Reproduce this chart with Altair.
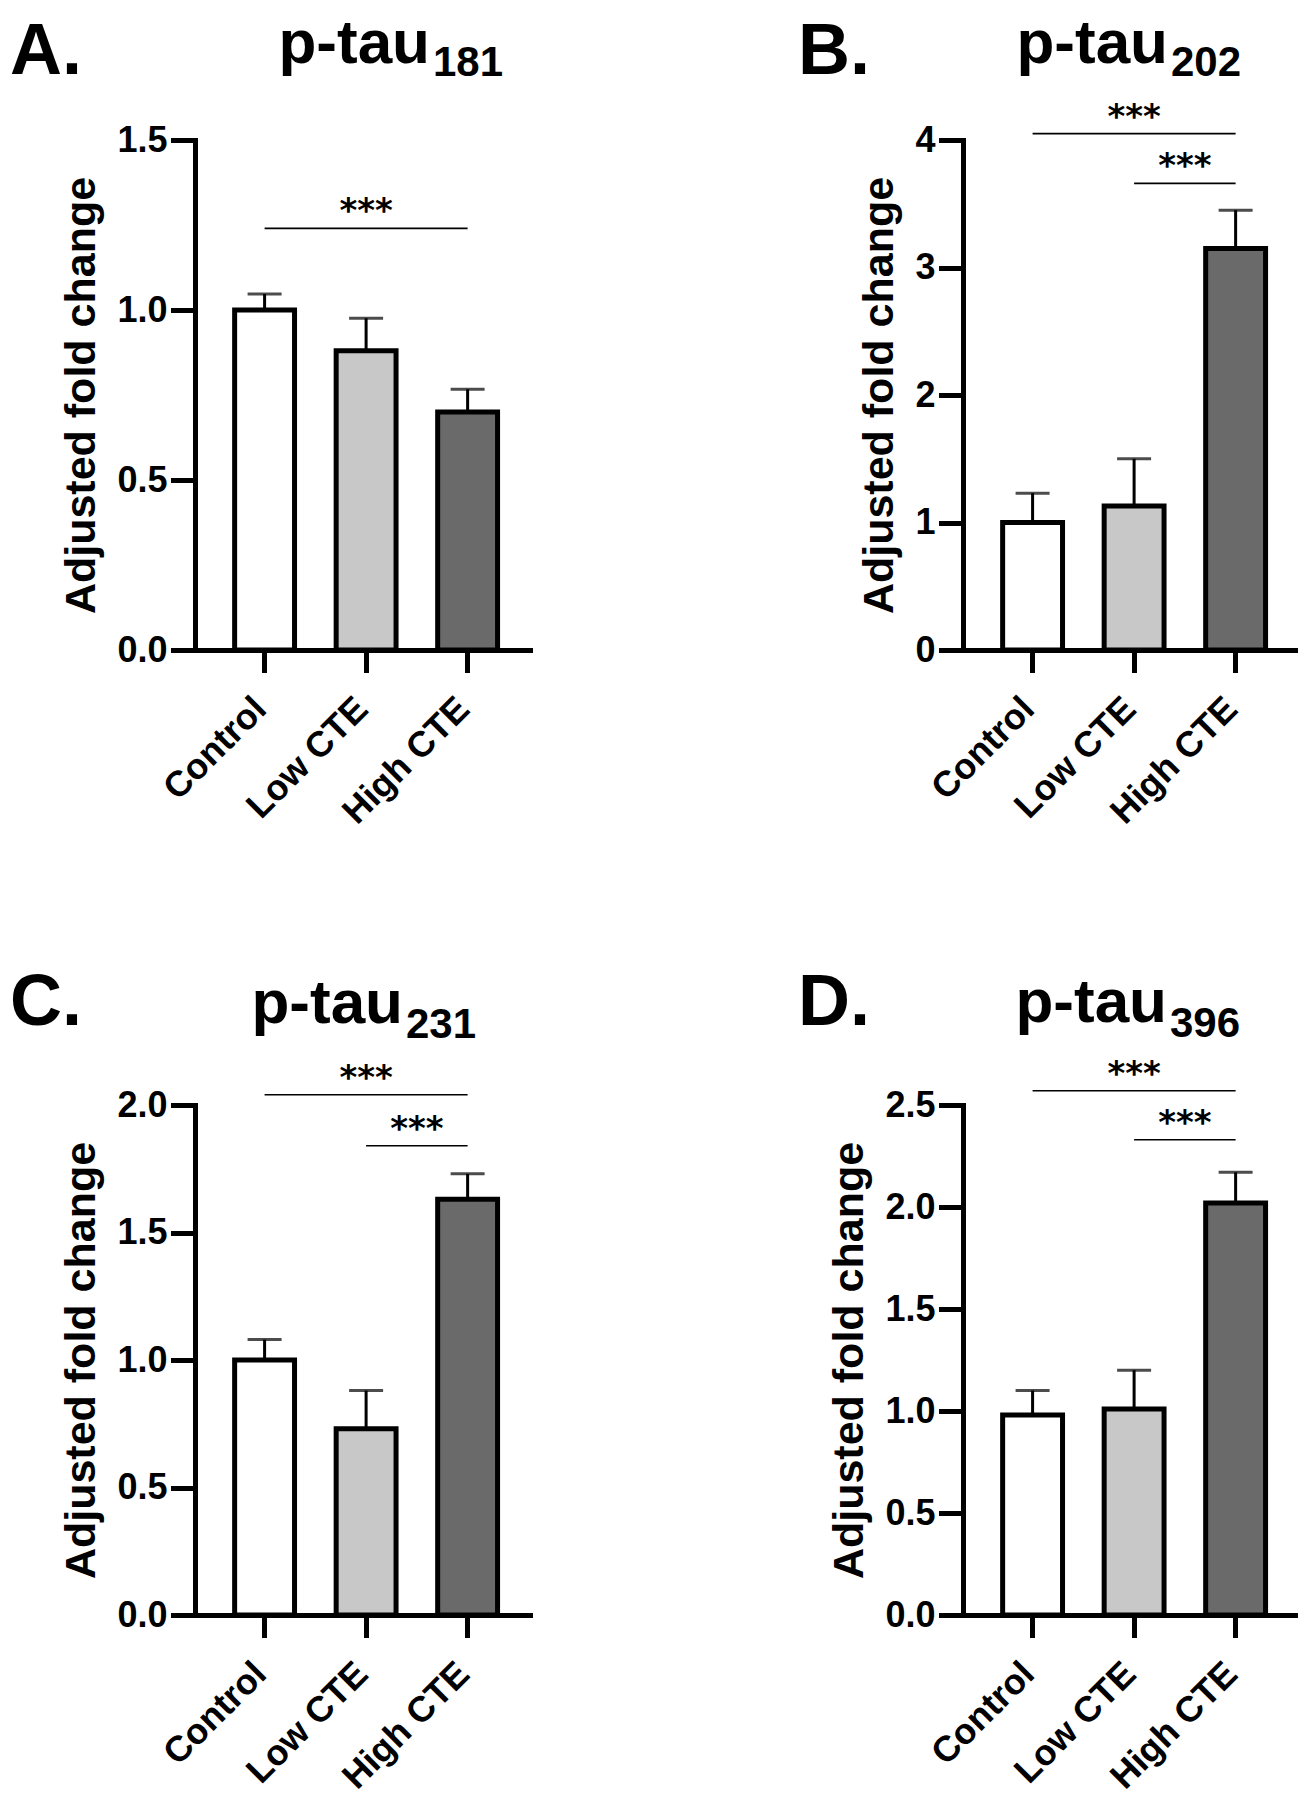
import altair as alt
import pandas as pd

# ---------------- data ----------------
categories = ["Control", "Low CTE", "High CTE"]
bar_fills = ["#ffffff", "#c8c8c8", "#6a6a6a"]

panel_letters = ["A.", "B.", "C.", "D."]
title_main = ["p-tau", "p-tau", "p-tau", "p-tau"]
title_sub = ["181", "202", "231", "396"]

mean_181 = [1.00, 0.88, 0.70]
upper_181 = [1.047, 0.976, 0.767]
mean_202 = [1.00, 1.13, 3.15]
upper_202 = [1.23, 1.50, 3.45]
mean_231 = [1.00, 0.73, 1.63]
upper_231 = [1.08, 0.88, 1.73]
mean_396 = [0.98, 1.01, 2.02]
upper_396 = [1.10, 1.20, 2.17]

y_max = [1.5, 4, 2.0, 2.5]
y_ticks_181 = [0, 0.5, 1.0, 1.5]
y_ticks_202 = [0, 1, 2, 3, 4]
y_ticks_231 = [0, 0.5, 1.0, 1.5, 2.0]
y_ticks_396 = [0, 0.5, 1.0, 1.5, 2.0, 2.5]
y_formats = [".1f", "d", ".1f", ".1f"]

sig_from_181 = ["Control"]
sig_to_181 = ["High CTE"]
sig_level_181 = [1.24]
sig_from_202 = ["Control", "Low CTE"]
sig_to_202 = ["High CTE", "High CTE"]
sig_level_202 = [4.05, 3.66]
sig_from_231 = ["Control", "Low CTE"]
sig_to_231 = ["High CTE", "High CTE"]
sig_level_231 = [2.04, 1.84]
sig_from_396 = ["Control", "Low CTE"]
sig_to_396 = ["High CTE", "High CTE"]
sig_level_396 = [2.57, 2.33]
sig_label = "***"

means = [mean_181, mean_202, mean_231, mean_396]
uppers = [upper_181, upper_202, upper_231, upper_396]
y_ticks = [y_ticks_181, y_ticks_202, y_ticks_231, y_ticks_396]
sig_from = [sig_from_181, sig_from_202, sig_from_231, sig_from_396]
sig_to = [sig_to_181, sig_to_202, sig_to_231, sig_to_396]
sig_level = [sig_level_181, sig_level_202, sig_level_231, sig_level_396]

# ---------------- style / layout ----------------
FONT = "Liberation Sans"
STAR_FONT = "DejaVu Sans"
W, H = 335, 510
P_IN, P_OUT, ALIGN = 0.41, 0.355, 0.55
STEP = W / (3 - P_IN + 2 * P_OUT)
SPX = 433
SPY = 455

# annotation placement relative to each plot area (x, baseline y)
letter_pos = [(-185, -66), (-165, -66), (-185, -80), (-165, -80)]
title_pos = [(235, -77, -64), (205, -77, -64), (208, -82, -67), (204, -83, -68)]


def xenc(field):
    return alt.X(
        f"{field}:N",
        sort=categories,
        scale=alt.Scale(domain=categories, paddingInner=P_IN, paddingOuter=P_OUT, align=ALIGN),
        axis=alt.Axis(
            title=None, labelAngle=315, labelAlign="right", labelBaseline="top",
            labelFont=FONT, labelFontSize=36, labelFontWeight="bold", labelColor="black",
            labelPadding=21, labelOffset=-16, tickSize=20, tickWidth=5, tickColor="black",
            domainWidth=5, domainColor="black", labelOverlap=False, grid=False,
        ),
    )


def yenc(field, i):
    return alt.Y(
        f"{field}:Q",
        scale=alt.Scale(domain=[0, y_max[i]], nice=False, zero=True),
        axis=alt.Axis(
            title="Adjusted fold change", values=y_ticks[i], format=y_formats[i],
            labelFont=FONT, labelFontSize=36, labelFontWeight="bold", labelColor="black",
            labelPadding=6, labelFlush=False, tickSize=22, tickWidth=5, tickColor="black",
            domainWidth=5, domainColor="black", grid=False,
            titleFont=FONT, titleFontSize=43, titleFontWeight="bold", titleColor="black",
            titlePadding=13,
        ),
    )


def panel(i):
    df = pd.DataFrame({"group": categories, "mean": means[i], "upper": uppers[i]})
    sig = pd.DataFrame({"from": sig_from[i], "to": sig_to[i], "level": sig_level[i]})

    err = alt.Chart(df).mark_rule(color="black", strokeWidth=3).encode(
        x=xenc("group"), y=yenc("mean", i), y2=alt.Y2("upper")
    )
    cap = alt.Chart(df).mark_tick(color="black", thickness=3, size=34, orient="horizontal").encode(
        x=xenc("group"), y=yenc("upper", i)
    )
    bars = alt.Chart(df).mark_bar(stroke="black", strokeWidth=5).encode(
        x=xenc("group"),
        y=yenc("mean", i),
        fill=alt.Fill("group:N", scale=alt.Scale(domain=categories, range=bar_fills), legend=None),
    )
    lines = alt.Chart(sig).mark_rule(color="black", strokeWidth=1.6).encode(
        x=xenc("from"), x2=alt.X2("to"), y=yenc("level", i)
    )
    layers = [err, bars, cap, lines]

    for k in range(len(sig_from[i])):
        a = categories.index(sig_from[i][k])
        b = categories.index(sig_to[i][k])
        mid = (a + b) / 2
        base = int(mid)
        dx = (mid - base) * STEP
        sdf = pd.DataFrame({"xm": [categories[base]], "level": [sig_level[i][k]], "t": [sig_label]})
        layers.append(
            alt.Chart(sdf).mark_text(
                font=STAR_FONT, fontSize=34, fontWeight="bold", color="black",
                align="center", baseline="alphabetic", dx=dx, dy=-6,
            ).encode(x=xenc("xm"), y=yenc("level", i), text="t:N")
        )

    lx, ly = letter_pos[i]
    layers.append(
        alt.Chart(pd.DataFrame({"t": [panel_letters[i]]})).mark_text(
            font=FONT, fontSize=72, fontWeight="bold", color="black",
            align="left", baseline="alphabetic",
        ).encode(x=alt.value(lx), y=alt.value(ly), text="t:N")
    )
    tx, ty, sy = title_pos[i]
    layers.append(
        alt.Chart(pd.DataFrame({"t": [title_main[i]]})).mark_text(
            font=FONT, fontSize=62, fontWeight="bold", color="black",
            align="right", baseline="alphabetic",
        ).encode(x=alt.value(tx), y=alt.value(ty), text="t:N")
    )
    layers.append(
        alt.Chart(pd.DataFrame({"t": [title_sub[i]]})).mark_text(
            font=FONT, fontSize=42, fontWeight="bold", color="black",
            align="left", baseline="alphabetic",
        ).encode(x=alt.value(tx + 3), y=alt.value(sy), text="t:N")
    )
    return alt.layer(*layers).properties(width=W, height=H)


chart = (
    alt.concat(
        panel(0), panel(1), panel(2), panel(3),
        columns=2, spacing={"row": SPY, "column": SPX}, bounds="flush",
    )
    .properties(padding={"top": 5, "left": 2, "right": 0, "bottom": 0}, background="white")
    .configure_view(stroke=None)
    .configure_axis(domainCap="square", tickCap="square")
)

chart.save("out.html", embed_options={"renderer": "svg", "actions": False})
